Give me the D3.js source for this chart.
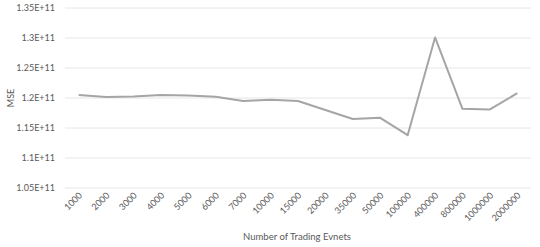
<!DOCTYPE html>
<html>
<head>
<meta charset="utf-8">
<script src="https://cdn.jsdelivr.net/npm/d3@7"></script>
<style>
  body { margin: 0; background: #fff; }
  text { font-family: Lato, "Open Sans", sans-serif; fill: #595959; }
</style>
</head>
<body>
<div id="chart"></div>
<script>
var categories = ["1000","2000","3000","4000","5000","6000","7000","10000","15000","20000","35000","50000","100000","400000","800000","1000000","2000000"];
var mse = [1.205e11,1.2015e11,1.2025e11,1.205e11,1.204e11,1.202e11,1.195e11,1.197e11,1.195e11,1.18e11,1.165e11,1.167e11,1.138e11,1.301e11,1.182e11,1.181e11,1.208e11];
var yTicks = [1.05e11,1.1e11,1.15e11,1.2e11,1.25e11,1.3e11,1.35e11];
var yLabels = ["1.05E+11","1.1E+11","1.15E+11","1.2E+11","1.25E+11","1.3E+11","1.35E+11"];

var W = 540, H = 247;
var plotLeft = 65, plotRight = 531, plotTop = 8, plotBottom = 188;

var svg = d3.select("#chart").append("svg")
  .attr("width", W)
  .attr("height", H);

var x = d3.scalePoint()
  .domain(categories)
  .range([plotLeft, plotRight])
  .padding(0.5);

var y = d3.scaleLinear()
  .domain([1.05e11, 1.35e11])
  .range([plotBottom, plotTop]);

// gridlines
svg.append("g")
  .selectAll("line")
  .data(yTicks)
  .enter()
  .append("line")
    .attr("x1", plotLeft)
    .attr("x2", plotRight)
    .attr("y1", function(d){ return y(d); })
    .attr("y2", function(d){ return y(d); })
    .style("stroke", "#e6e6e6")
    .style("stroke-width", 1);

// y labels
svg.append("g")
  .selectAll("text")
  .data(yTicks)
  .enter()
  .append("text")
    .attr("x", 55)
    .attr("y", function(d){ return y(d) + 3; })
    .attr("text-anchor", "end")
    .style("font-size", "9px")
    .text(function(d, i){ return yLabels[i]; });

// x labels
svg.append("g")
  .selectAll("text")
  .data(categories)
  .enter()
  .append("text")
    .attr("transform", function(d){
      return "translate(" + (x(d) + 4) + "," + (plotBottom + 8) + ") rotate(-45)";
    })
    .attr("text-anchor", "end")
    .style("font-size", "9px")
    .text(function(d){ return d; });

var line = d3.line()
  .x(function(d, i){ return x(categories[i]); })
  .y(function(d){ return y(d); });

svg.append("path")
  .datum(mse)
  .attr("d", line)
  .style("fill", "none")
  .style("stroke", "#a5a5a5")
  .style("stroke-width", 2)
  .style("stroke-linejoin", "round");

svg.append("text")
  .attr("transform", "translate(14,98) rotate(-90)")
  .attr("text-anchor", "middle")
  .style("font-size", "9px")
  .text("MSE");

svg.append("text")
  .attr("x", 297)
  .attr("y", 240)
  .attr("text-anchor", "middle")
  .style("font-size", "9.5px")
  .text("Number of Trading Evnets");
</script>
</body>
</html>
